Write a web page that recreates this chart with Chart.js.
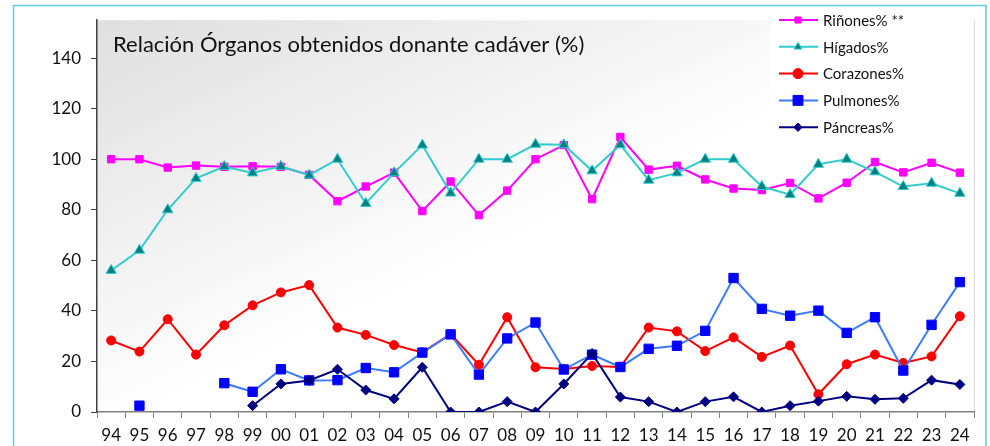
<!DOCTYPE html>
<html>
<head>
<meta charset="utf-8">
<script src="https://cdn.jsdelivr.net/npm/chart.js@4.4.1/dist/chart.umd.min.js"></script>
<style>
  html, body { margin: 0; padding: 0; background: #fff; }
  #wrap { width: 990px; height: 446px; }
</style>
</head>
<body>
<div id="wrap"><canvas id="chart" width="990" height="446"></canvas></div>
<script>
// Data
const years = ['94','95','96','97','98','99','00','01','02','03','04','05','06','07','08','09','10','11','12','13','14','15','16','17','18','19','20','21','22','23','24'];
const rinones   = [100, 100, 96.7, 97.5, 97, 97.2, 97, 93.8, 83.4, 89.2, 94.7, 79.5, 91.2, 77.9, 87.6, 100, 105.6, 84.2, 108.8, 95.9, 97.4, 92, 88.4, 87.8, 90.6, 84.5, 90.7, 98.9, 94.8, 98.6, 94.7];
const higados   = [56, 64, 80, 92.4, 97.1, 94.6, 97.2, 93.7, 100, 82.5, 94.6, 105.6, 86.6, 100, 100, 105.9, 105.7, 95.4, 105.7, 91.7, 94.6, 100, 100, 89.2, 86, 98, 100, 95, 89.2, 90.5, 86.5];
const corazones = [28.3, 23.9, 36.7, 22.7, 34.3, 42.2, 47.3, 50.2, 33.4, 30.5, 26.5, 23.6, 30.8, 18.7, 37.5, 17.7, 17, 18.2, 17.8, 33.4, 31.9, 24.1, 29.5, 21.8, 26.3, 7, 18.9, 22.7, 19.4, 22, 37.9];
const pulmones  = [null, 2.5, null, null, 11.4, 8, 16.9, 12.5, 12.6, 17.4, 15.7, 23.5, 30.7, 14.8, 29.1, 35.4, 16.8, 22.7, 17.8, 25, 26.2, 32.1, 53, 40.8, 38.1, 40.1, 31.3, 37.5, 16.4, 34.5, 51.4];
const pancreas  = [null, null, null, null, null, 2.5, 11.1, 12.5, 16.9, 8.7, 5.2, 17.7, 0, 0, 4.1, 0, 11.1, 23.1, 5.9, 4.1, 0, 4.1, 6, 0, 2.5, 4.3, 6.2, 5, 5.4, 12.6, 10.9];
const yTicks = [0, 20, 40, 60, 80, 100, 120, 140];
const titleText = 'Relación Órganos obtenidos donante cadáver (%)';

const FONT = 'Lato, "Open Sans", sans-serif';

// plot background, outer frame and title
const backdrop = {
  id: 'backdrop',
  beforeDraw(chart) {
    const { ctx, chartArea: a } = chart;
    ctx.save();
    ctx.fillStyle = '#fff';
    ctx.fillRect(0, 0, chart.width, chart.height);
    const g = ctx.createLinearGradient(a.left, a.top, a.left + 160, a.top + 340);
    g.addColorStop(0, '#dfdfdf');
    g.addColorStop(1, '#ffffff');
    ctx.fillStyle = g;
    ctx.fillRect(a.left, a.top, a.right - a.left, a.bottom - a.top);
    ctx.strokeStyle = '#dadada';
    ctx.lineWidth = 1;
    ctx.beginPath();
    ctx.moveTo(a.right + 0.5, a.top);
    ctx.lineTo(a.right + 0.5, a.bottom);
    ctx.stroke();
    ctx.strokeStyle = '#5ecdd5';
    ctx.lineWidth = 1.5;
    ctx.strokeRect(13.5, 5.5, 972.5, 470);
    ctx.fillStyle = '#111';
    ctx.font = '22px ' + FONT;
    ctx.textBaseline = 'alphabetic';
    ctx.fillText(titleText, 113, 52);
    ctx.restore();
  }
};

// legend in the top-right corner
const cornerLegend = {
  id: 'cornerLegend',
  afterDraw(chart) {
    const { ctx } = chart;
    const sizes = [4.3, 4.5, 5, 7, 4.2];
    ctx.save();
    ctx.fillStyle = '#fff';
    ctx.fillRect(770, 7, 203, 133);
    chart.data.datasets.forEach((ds, i) => {
      const y = 20 + i * 26.8;
      ctx.strokeStyle = ds.borderColor;
      ctx.lineWidth = 2;
      ctx.beginPath();
      ctx.moveTo(779, y);
      ctx.lineTo(818, y);
      ctx.stroke();
      ctx.fillStyle = ds.pointBackgroundColor;
      ctx.strokeStyle = ds.pointBorderColor;
      ctx.lineWidth = 1;
      Chart.helpers.drawPoint(ctx, { pointStyle: ds.pointStyle, radius: sizes[i], rotation: 0, borderWidth: 1 }, 798, y);
      ctx.fillStyle = '#111';
      ctx.font = '15px ' + FONT;
      ctx.textBaseline = 'middle';
      ctx.fillText(ds.label, 823, y + 1);
    });
    ctx.restore();
  }
};

function series(label, data, line, fill, border, style, radius, order) {
  return {
    label, data, order,
    borderColor: line, borderWidth: 2,
    pointStyle: style, pointRadius: radius,
    pointBackgroundColor: fill, pointBorderColor: border, pointBorderWidth: 1,
    tension: 0, spanGaps: false
  };
}

new Chart(document.getElementById('chart'), {
  type: 'line',
  data: {
    labels: years,
    datasets: [
      series('Riñones% **', rinones, '#ff00ff', '#ff00ff', '#ff00ff', 'rect', 5.2, 5),
      series('Hígados%', higados, '#33cccc', '#008080', '#33cccc', 'triangle', 6, 4),
      series('Corazones%', corazones, '#ff0000', '#ff0000', '#ff0000', 'circle', 4.5, 3),
      series('Pulmones%', pulmones, '#3d7cff', '#0000ff', '#0000ff', 'rect', 6.6, 2),
      series('Páncreas%', pancreas, '#000080', '#000080', '#000080', 'rectRot', 5, 1)
    ]
  },
  options: {
    responsive: false,
    animation: false,
    devicePixelRatio: 1,
    layout: { padding: { top: 18, right: 16, left: 0, bottom: 0 } },
    plugins: { legend: { display: false }, tooltip: { enabled: false } },
    scales: {
      x: {
        offset: true,
        afterFit(s) { s.height = 34; },
        grid: { offset: true, drawOnChartArea: false, drawTicks: true, tickLength: 6, color: '#808080' },
        border: { display: true, color: '#808080', width: 1.5 },
        ticks: { color: '#111', font: { family: FONT, size: 17 }, padding: 7, maxRotation: 0, autoSkip: false }
      },
      y: {
        min: 0, max: 155,
        afterFit(s) { s.width = 97; },
        afterBuildTicks(s) { s.ticks = yTicks.map(v => ({ value: v })); },
        grid: { drawOnChartArea: false, drawTicks: true, tickLength: 6, color: '#404040' },
        border: { display: true, color: '#404040', width: 1.5 },
        ticks: { color: '#111', font: { family: FONT, size: 17 }, padding: 10 }
      }
    }
  },
  plugins: [backdrop, cornerLegend]
});
</script>
</body>
</html>
